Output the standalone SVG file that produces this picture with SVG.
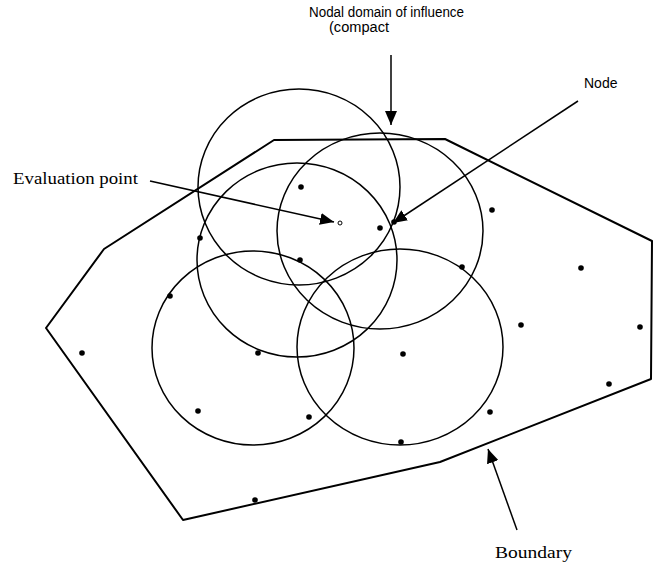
<svg xmlns="http://www.w3.org/2000/svg" width="660" height="564" viewBox="0 0 660 564">
<style>
.bd{fill:none;stroke:#000;stroke-width:2;stroke-linejoin:round}
.dom{fill:none;stroke:#000;stroke-width:1.5}
.ar{fill:none;stroke:#000;stroke-width:1.5}
.nd{fill:#000}
.ev{fill:none;stroke:#000;stroke-width:1}
.serif{font-family:"Liberation Serif","Times New Roman",serif;font-size:16px;fill:#000}
.sans{font-family:"Liberation Sans",Arial,sans-serif;font-size:14px;fill:#000}
</style>
<defs>
<marker id="ah" markerUnits="userSpaceOnUse" markerWidth="14" markerHeight="12" refX="14" refY="6" orient="auto"><path d="M0,0 L14,6 L0,12 z" fill="#000"/></marker>
</defs>
<rect width="660" height="564" fill="#fff"/>
<g id="boundary">
<polygon class="bd" points="46,328 104,249 274,140 445,139 652,241 651,379 440,462 183,520"/>
</g>
<g id="domains">
<g id="domain1"><ellipse class="dom" cx="299" cy="187" rx="101" ry="98"/></g>
<g id="domain2"><ellipse class="dom" cx="380" cy="231" rx="103" ry="98"/></g>
<g id="domain3"><ellipse class="dom" cx="297" cy="260" rx="100" ry="97"/></g>
<g id="domain4"><ellipse class="dom" cx="253" cy="348" rx="101" ry="97"/></g>
<g id="domain5"><ellipse class="dom" cx="400" cy="347" rx="103" ry="98"/></g>
</g>
<g id="nodes">
<circle class="nd" cx="301" cy="187" r="2.8"/>
<circle class="nd" cx="380" cy="228" r="2.8"/>
<circle class="nd" cx="394" cy="222" r="2.8"/>
<circle class="nd" cx="492" cy="210" r="2.8"/>
<circle class="nd" cx="200" cy="238" r="2.8"/>
<circle class="nd" cx="300" cy="260" r="2.8"/>
<circle class="nd" cx="462" cy="267" r="2.8"/>
<circle class="nd" cx="170" cy="296" r="2.8"/>
<circle class="nd" cx="258" cy="353" r="2.8"/>
<circle class="nd" cx="82" cy="353" r="2.8"/>
<circle class="nd" cx="198" cy="411" r="2.8"/>
<circle class="nd" cx="309" cy="417" r="2.8"/>
<circle class="nd" cx="255" cy="500" r="2.8"/>
<circle class="nd" cx="403" cy="354" r="2.8"/>
<circle class="nd" cx="521" cy="325" r="2.8"/>
<circle class="nd" cx="581" cy="268" r="2.8"/>
<circle class="nd" cx="640" cy="327" r="2.8"/>
<circle class="nd" cx="609" cy="384" r="2.8"/>
<circle class="nd" cx="490" cy="412" r="2.8"/>
<circle class="nd" cx="401" cy="442" r="2.8"/>
</g>
<g id="evaluation-point"><circle class="ev" cx="340" cy="223" r="2"/></g>
<g id="connectors">
<line class="ar" x1="150" y1="181" x2="334" y2="222" marker-end="url(#ah)"/>
<line class="ar" x1="578" y1="101" x2="393" y2="223" marker-end="url(#ah)"/>
<line class="ar" x1="391" y1="55" x2="391" y2="125" marker-end="url(#ah)"/>
<line class="ar" x1="517" y1="530" x2="488" y2="449" marker-end="url(#ah)"/>
</g>
<g id="label-domain">
<text class="sans" x="309" y="17" textLength="155" lengthAdjust="spacingAndGlyphs">Nodal domain of influence</text>
<text class="sans" x="329" y="32" textLength="60" lengthAdjust="spacingAndGlyphs">(compact</text>
</g>
<g id="label-node"><text class="sans" x="584" y="88">Node</text></g>
<g id="label-eval"><text class="serif" x="13" y="184" textLength="125" lengthAdjust="spacingAndGlyphs">Evaluation point</text></g>
<g id="label-boundary"><text class="serif" x="495" y="558" textLength="77" lengthAdjust="spacingAndGlyphs">Boundary</text></g>
</svg>
